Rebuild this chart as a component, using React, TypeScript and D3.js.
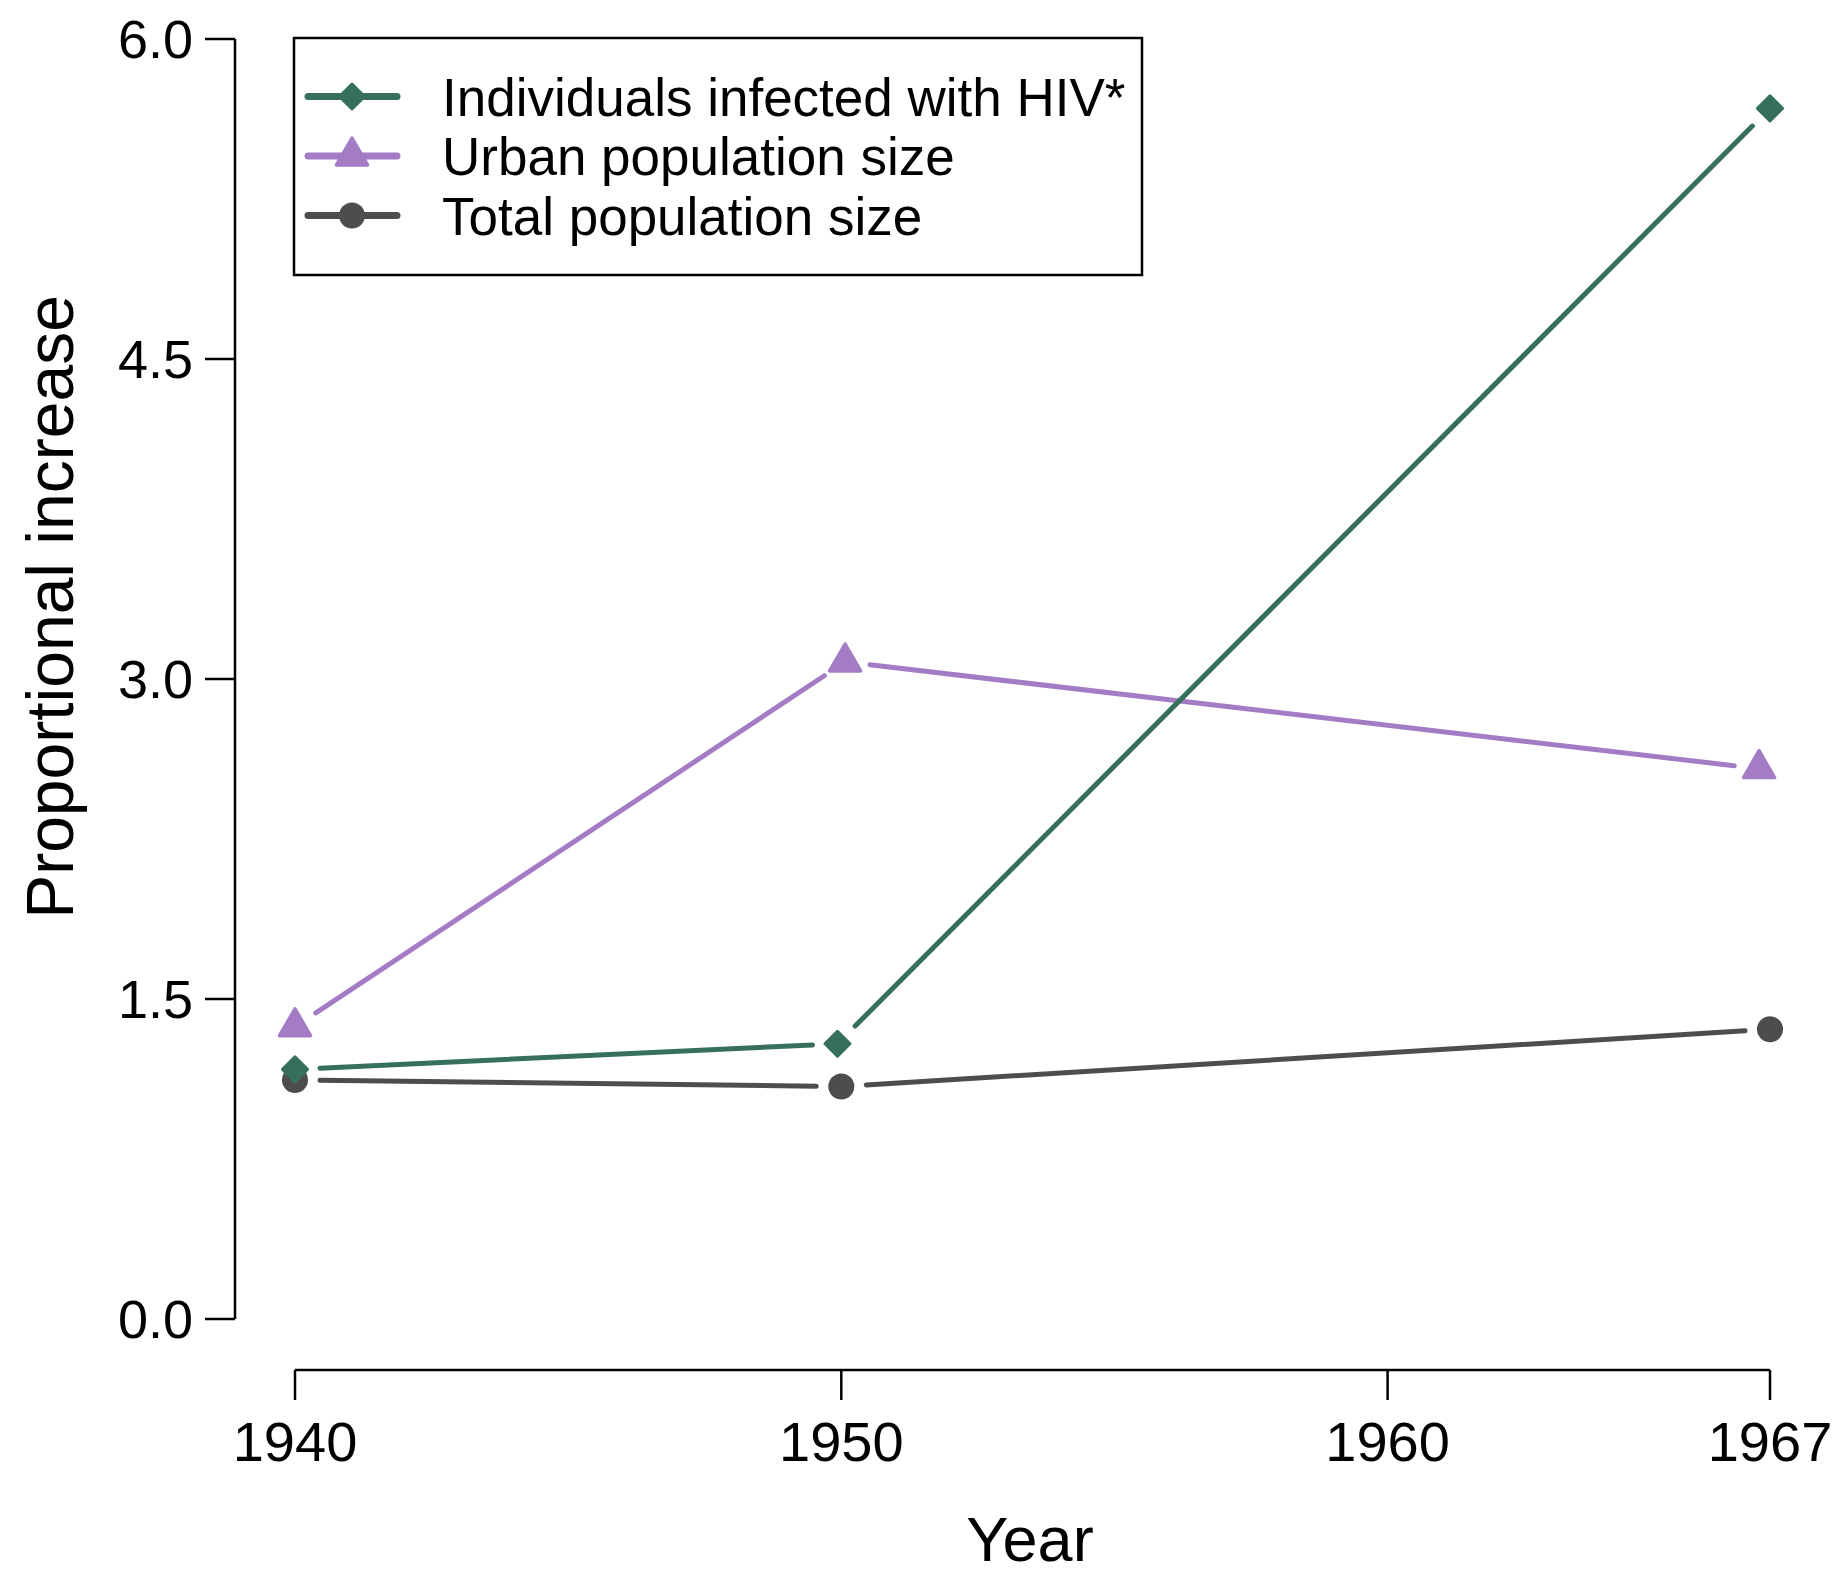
import React from "react";
import * as d3 from "d3";

// ---- data ----
const xTickYears = [1940, 1950, 1960, 1967];
const yTickValues = [0, 1.5, 3, 4.5, 6];

const hivYears = [1940, 1949.93, 1967];
const hivValues = [1.17, 1.29, 5.675];

const urbanYears = [1940, 1950.07, 1966.8];
const urbanValues = [1.37, 3.08, 2.58];

const totalYears = [1940, 1950, 1967];
const totalValues = [1.12, 1.09, 1.358];

const seriesLabels = [
  "Individuals infected with HIV*",
  "Urban population size",
  "Total population size",
];
const seriesColors = ["#36705A", "#A47CC6", "#4D4D4D"];
const seriesShapes = ["diamond", "triangle", "circle"];

const xLabel = "Year";
const yLabel = "Proportional increase";

const FONT = "'Liberation Sans', Arial, Helvetica, sans-serif";

function Marker({ shape, cx, cy, color }: { shape: string; cx: number; cy: number; color: string }) {
  if (shape === "circle") return <circle cx={cx} cy={cy} r={13} fill={color} />;
  if (shape === "diamond") {
    const h = 12.5;
    const d = `M${cx},${cy - h}L${cx + h},${cy}L${cx},${cy + h}L${cx - h},${cy}Z`;
    return <path d={d} fill={color} stroke={color} strokeWidth={3} strokeLinejoin="round" />;
  }
  const s = 31;
  const th = s * 0.866;
  const d = `M${cx},${cy - (2 / 3) * th}L${cx + s / 2},${cy + th / 3}L${cx - s / 2},${cy + th / 3}Z`;
  return <path d={d} fill={color} stroke={color} strokeWidth={3.5} strokeLinejoin="round" />;
}

export default function App() {
  const x = d3.scaleLinear().domain([1940, 1967]).range([295, 1770]);
  const y = d3.scaleLinear().domain([0, 6]).range([1319, 39]);

  const series = [
    { years: totalYears, values: totalValues, idx: 2 },
    { years: urbanYears, values: urbanValues, idx: 1 },
    { years: hivYears, values: hivValues, idx: 0 },
  ];

  const gap = 25;
  const line = d3.line<[number, number]>().x((d) => d[0]).y((d) => d[1]);

  const segs = (years: number[], values: number[]) => {
    const out: string[] = [];
    for (let i = 0; i < years.length - 1; i++) {
      const x0 = x(years[i]), y0 = y(values[i]);
      const x1 = x(years[i + 1]), y1 = y(values[i + 1]);
      const dx = x1 - x0, dy = y1 - y0;
      const len = Math.sqrt(dx * dx + dy * dy);
      if (len <= 2 * gap) continue;
      const ux = dx / len, uy = dy / len;
      out.push(
        line([
          [x0 + ux * gap, y0 + uy * gap],
          [x1 - ux * gap, y1 - uy * gap],
        ]) as string
      );
    }
    return out;
  };

  const axisX = 235;
  const axisY = 1370;

  const legendRowsY = [96.5, 156, 215.5];

  return (
    <svg
      width={1844}
      height={1576}
      style={{ position: "absolute", left: 0, top: 0, display: "block", background: "#fff" }}
      fontFamily={FONT}
    >
      <rect x={0} y={0} width={1844} height={1576} fill="#fff" />

      {/* Y axis */}
      <line x1={axisX} x2={axisX} y1={y(0)} y2={y(6)} stroke="#000" strokeWidth={2.5} />
      {yTickValues.map((v) => (
        <g key={v}>
          <line x1={axisX - 30} x2={axisX} y1={y(v)} y2={y(v)} stroke="#000" strokeWidth={2.5} />
          <text x={193} y={y(v)} dy="0.36em" textAnchor="end" fontSize={54} fill="#000">
            {v.toFixed(1)}
          </text>
        </g>
      ))}

      {/* X axis */}
      <line x1={x(1940)} x2={x(1967)} y1={axisY} y2={axisY} stroke="#000" strokeWidth={2.5} />
      {xTickYears.map((v) => (
        <g key={v}>
          <line x1={x(v)} x2={x(v)} y1={axisY} y2={axisY + 30} stroke="#000" strokeWidth={2.5} />
          <text x={x(v)} y={1461} textAnchor="middle" fontSize={56} fill="#000">
            {v}
          </text>
        </g>
      ))}

      {/* Axis titles */}
      <text x={1030} y={1561} textAnchor="middle" fontSize={63} fill="#000">
        {xLabel}
      </text>
      <text
        transform={`translate(73,607) rotate(-90)`}
        textAnchor="middle"
        fontSize={66}
        fill="#000"
      >
        {yLabel}
      </text>

      {/* Series */}
      {series.map((s) => (
        <g key={s.idx}>
          {segs(s.years, s.values).map((d, i) => (
            <path
              key={i}
              d={d}
              stroke={seriesColors[s.idx]}
              strokeWidth={5}
              strokeLinecap="round"
              fill="none"
            />
          ))}
          {s.years.map((yr, i) => (
            <Marker
              key={i}
              shape={seriesShapes[s.idx]}
              cx={x(yr)}
              cy={y(s.values[i])}
              color={seriesColors[s.idx]}
            />
          ))}
        </g>
      ))}

      {/* Legend */}
      <rect x={294} y={38} width={848} height={237} fill="none" stroke="#000" strokeWidth={2.5} />
      {seriesLabels.map((lab, i) => (
        <g key={lab}>
          <line
            x1={308}
            x2={397}
            y1={legendRowsY[i]}
            y2={legendRowsY[i]}
            stroke={seriesColors[i]}
            strokeWidth={7}
            strokeLinecap="round"
          />
          <Marker shape={seriesShapes[i]} cx={352} cy={legendRowsY[i]} color={seriesColors[i]} />
          <text x={442} y={legendRowsY[i]} dy="0.36em" fontSize={53} fill="#000">
            {lab}
          </text>
        </g>
      ))}
    </svg>
  );
}
